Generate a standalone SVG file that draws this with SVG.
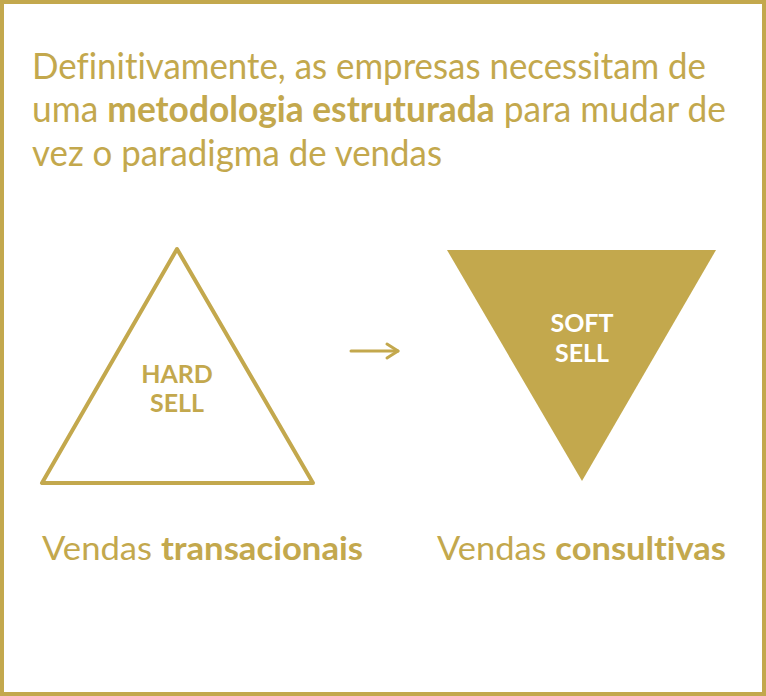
<svg xmlns="http://www.w3.org/2000/svg" width="766" height="696" viewBox="0 0 766 696">
<style>
.t{font-family:Lato,"Open Sans","Noto Sans",sans-serif;fill:#C3A84D;font-variant-ligatures:none}
.b{font-weight:bold}
.lbl{font-family:Lato,"Open Sans","Noto Sans",sans-serif;font-weight:bold;font-size:25px;text-anchor:middle}
.ln{stroke:#C3A84D;stroke-width:3;stroke-linecap:round;stroke-linejoin:round;fill:none}
</style>
<rect x="2" y="2" width="762" height="692" fill="#fff" stroke="#C3A84D" stroke-width="4"/>
<g id="title">
<text class="t" x="32" y="79" font-size="36" textLength="674" lengthAdjust="spacingAndGlyphs">Definitivamente, as empresas necessitam de</text>
<text class="t" x="32" y="122" font-size="36" textLength="694" lengthAdjust="spacingAndGlyphs">uma <tspan class="b">metodologia estruturada</tspan> para mudar de</text>
<text class="t" x="32" y="166" font-size="36" textLength="410" lengthAdjust="spacingAndGlyphs">vez o paradigma de vendas</text>
</g>
<g id="hard-sell">
<polygon points="177,249 42,483 313,483" fill="none" stroke="#C3A84D" stroke-width="4" stroke-linejoin="round"/>
<text class="lbl" x="177" y="383" fill="#C3A84D">HARD</text>
<text class="lbl" x="177" y="412" fill="#C3A84D">SELL</text>
</g>
<g id="soft-sell">
<polygon points="447,250 716,250 582,481" fill="#C3A84D"/>
<text class="lbl" x="582" y="332" fill="#fff">SOFT</text>
<text class="lbl" x="582" y="362" fill="#fff">SELL</text>
</g>
<g id="connectors">
<path class="ln" d="M351,351 L398,351"/>
<path class="ln" d="M387,344 L398,351 L387,358"/>
</g>
<g id="label-transacionais">
<text class="t" x="42" y="560" font-size="33" textLength="321" lengthAdjust="spacingAndGlyphs">Vendas <tspan class="b">transacionais</tspan></text>
</g>
<g id="label-consultivas">
<text class="t" x="437" y="560" font-size="33" textLength="289" lengthAdjust="spacingAndGlyphs">Vendas <tspan class="b">consultivas</tspan></text>
</g>
</svg>
